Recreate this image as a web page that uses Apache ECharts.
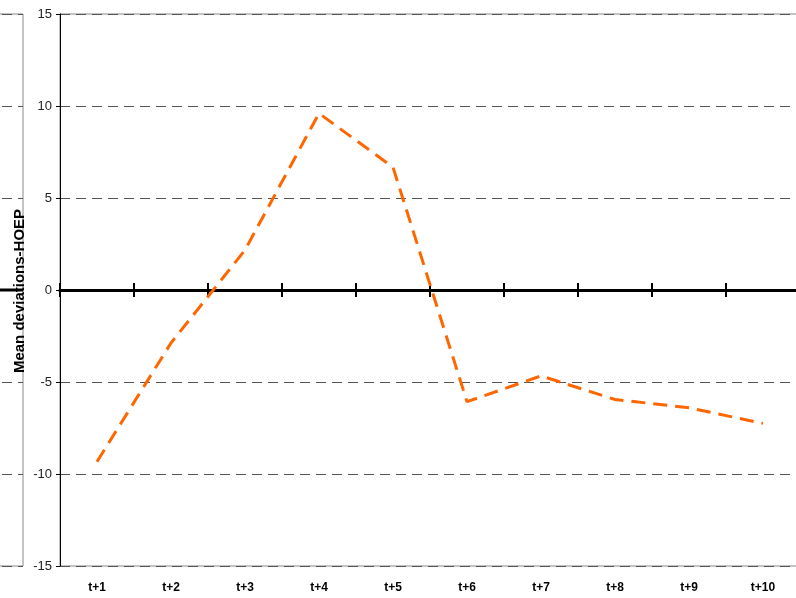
<!DOCTYPE html>
<html>
<head>
<meta charset="utf-8">
<script src="https://cdn.jsdelivr.net/npm/echarts@6/dist/echarts.min.js"></script>
<style>html,body{margin:0;padding:0;background:#fff;}#c{width:796px;height:598px;}</style>
</head>
<body>
<div id="c"></div>
<script>
const categories = ['t+1','t+2','t+3','t+4','t+5','t+6','t+7','t+8','t+9','t+10'];
const meanDeviations = [-9.33, -2.88, 2.17, 9.6, 6.67, -6.07, -4.67, -5.95, -6.4, -7.25];
const yTicks = { min: -15, max: 15, interval: 5 };
const yTitle = 'Mean deviations-HOEP';
const leftPanelEdges = ['L1', 'L2', 'L3'];
const leftPanelZero = [0, 0, 0];

const chart = echarts.init(document.getElementById('c'), null, { renderer: 'canvas' });
const gridLine = { show: true, lineStyle: { color: '#555', width: 1, type: [10, 6] } };
const labelFont = 'Arial, "Liberation Sans", sans-serif';

chart.setOption({
  animation: false,
  backgroundColor: '#fff',
  grid: [
    { left: 60, top: 14, width: 740, height: 552, show: true, borderColor: '#888', borderWidth: 1, outerBoundsMode: 'none' },
    { left: -30, top: 14, width: 53, height: 552, show: true, borderColor: '#888', borderWidth: 1, outerBoundsMode: 'none' }
  ],
  xAxis: [
    { type: 'category', gridIndex: 0, data: categories, position: 'bottom',
      axisLine: { show: false, onZero: false }, axisTick: { show: false },
      axisLabel: { margin: 16, color: '#000', fontWeight: 'bold', fontSize: 12, fontFamily: labelFont } },
    { type: 'category', gridIndex: 0, data: categories, position: 'bottom',
      axisLine: { show: true, onZero: true, onZeroAxisIndex: 0, lineStyle: { color: '#000', width: 3 } },
      axisTick: { show: true, length: 7, lineStyle: { color: '#000', width: 2 } },
      axisLabel: { show: false } },
    { type: 'category', gridIndex: 0, data: categories, position: 'top',
      axisLine: { show: true, onZero: true, onZeroAxisIndex: 0, lineStyle: { color: '#000', width: 3 } },
      axisTick: { show: true, length: 7, lineStyle: { color: '#000', width: 2 } },
      axisLabel: { show: false } },
    { type: 'category', gridIndex: 1, data: leftPanelEdges, position: 'bottom', boundaryGap: false,
      axisLine: { show: false, onZero: false }, axisTick: { show: false }, axisLabel: { show: false } }
  ],
  yAxis: [
    { type: 'value', gridIndex: 0, min: yTicks.min, max: yTicks.max, interval: yTicks.interval,
      axisLine: { show: true, lineStyle: { color: '#000', width: 1 } },
      axisTick: { show: true, length: 4, lineStyle: { color: '#000' } },
      axisLabel: { margin: 8, color: '#222', fontSize: 13, fontFamily: labelFont },
      splitLine: gridLine },
    { type: 'value', gridIndex: 1, min: yTicks.min, max: yTicks.max, interval: yTicks.interval,
      axisLine: { show: false }, axisTick: { show: false }, axisLabel: { show: false },
      splitLine: gridLine }
  ],
  graphic: [
    { type: 'text', x: 20, y: 291, rotation: Math.PI / 2, z: 100,
      style: { text: yTitle, font: 'bold 15px Arial, "Liberation Sans", sans-serif', fill: '#000',
               textAlign: 'center', textVerticalAlign: 'middle' } }
  ],
  series: [
    { type: 'line', xAxisIndex: 0, yAxisIndex: 0, data: meanDeviations,
      showSymbol: false, symbol: 'none',
      lineStyle: { color: '#FF6600', width: 3, type: [14, 8], cap: 'butt' } },
    { type: 'line', xAxisIndex: 3, yAxisIndex: 1, data: leftPanelZero, silent: true,
      showSymbol: false, symbol: 'none', clip: false, z: 5,
      lineStyle: { color: '#000', width: 3, type: 'solid' } }
  ]
});
</script>
</body>
</html>
